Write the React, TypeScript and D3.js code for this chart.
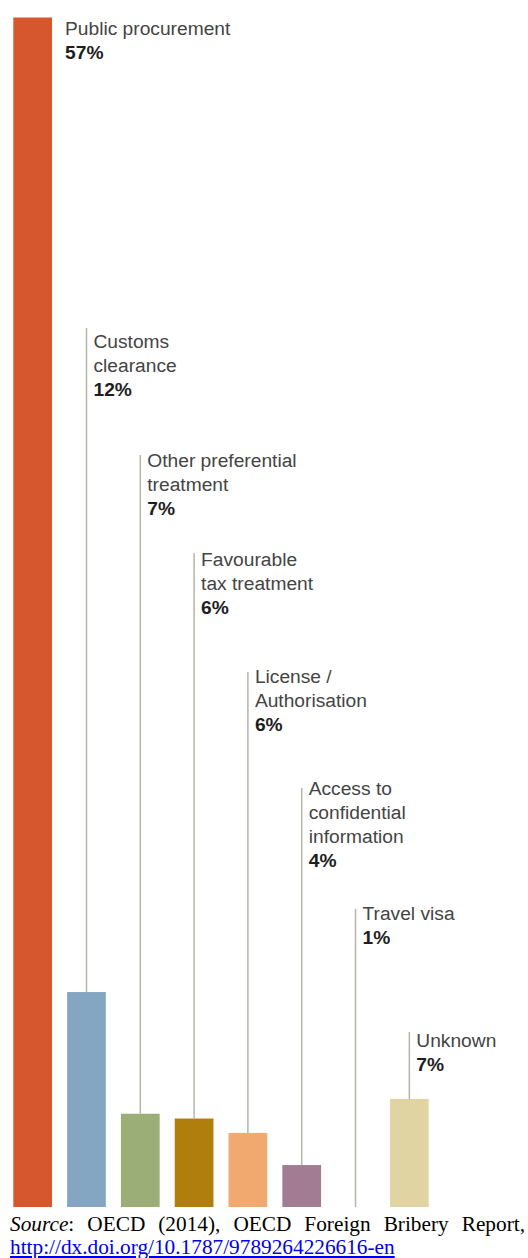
import React, { useEffect, useRef } from "react";
import * as d3 from "d3";

// ---- data ----
const categories = [
  "Public procurement",
  "Customs clearance",
  "Other preferential treatment",
  "Favourable tax treatment",
  "License / Authorisation",
  "Access to confidential information",
  "Travel visa",
  "Unknown",
];
// label lines as printed
const labelLines: string[][] = [
  ["Public procurement"],
  ["Customs", "clearance"],
  ["Other preferential", "treatment"],
  ["Favourable", "tax treatment"],
  ["License /", "Authorisation"],
  ["Access to", "confidential", "information"],
  ["Travel visa"],
  ["Unknown"],
];
// printed shares (%)
const shares = [57, 12, 7, 6, 6, 4, 1, 7];
// bar heights as drawn in the picture (same % units as the tallest bar)
const barValues = [57, 10.3, 4.47, 4.24, 3.55, 2.01, 0, 5.18];
const barColors = ["#d6572d", "#84a6c2", "#9bae77", "#b07e0c", "#f2a96f", "#a27c93", "none", "#e0d4a2"];

// ---- layout ----
const W = 528;
const H = 1258;
const BASE_Y = 1207;
const TOP_Y = 17.5;
const labelBaselines = [34.5, 348, 467, 566, 683, 795, 920, 1047];
const leaderTops = [NaN, 328, 455, 553, 672, 788, 909, 1032];
const LINE_H = 24;
const FONT = "'Liberation Sans', Arial, Helvetica, sans-serif";
const FS = 19.2;

const sourceWords = ["OECD", "(2014),", "OECD", "Foreign", "Bribery", "Report,"];
const sourceLink = "http://dx.doi.org/10.1787/9789264226616-en";

export default function App() {
  const x = d3
    .scaleBand<string>()
    .domain(categories)
    .range([13.3, 13.3 + 8 * 53.8 - 15])
    .paddingInner(0.28)
    .paddingOuter(0);
  const y = d3.scaleLinear().domain([0, 57]).range([BASE_Y, TOP_Y]);
  const srcRef = useRef<SVGGElement>(null);

  useEffect(() => {
    const g = d3.select(srcRef.current);
    g.selectAll("*").remove();
    const left = 10;
    const right = 525;
    const yLine = 1231;
    const serif = "'Liberation Serif', 'Times New Roman', serif";
    const t0 = g
      .append("text")
      .attr("x", left)
      .attr("y", yLine)
      .attr("font-family", serif)
      .attr("font-size", 21.3)
      .attr("fill", "#000");
    t0.append("tspan").attr("font-style", "italic").text("Source");
    t0.append("tspan").text(":");
    const words = sourceWords.map((w) =>
      g
        .append("text")
        .attr("y", yLine)
        .attr("font-family", serif)
        .attr("font-size", 21.3)
        .attr("fill", "#000")
        .text(w)
    );
    const w0 = (t0.node() as SVGTextElement).getComputedTextLength();
    const ws = words.map((t) => (t.node() as SVGTextElement).getComputedTextLength());
    const total = w0 + d3.sum(ws);
    const gap = (right - left - total) / words.length;
    let cx = left + w0 + gap;
    words.forEach((t, i) => {
      t.attr("x", cx);
      cx += ws[i] + gap;
    });
    g.append("text")
      .attr("x", left)
      .attr("y", 1254)
      .attr("font-family", serif)
      .attr("font-size", 21.3)
      .attr("fill", "#0000ee")
      .attr("text-decoration", "underline")
      .text(sourceLink);
  }, []);

  return (
    <div style={{ position: "absolute", left: 0, top: 0, width: W, height: H, background: "#fff" }}>
      <svg width={W} height={H} style={{ display: "block" }}>
        {categories.map((c, i) => {
          const bx = x(c)!;
          const bw = x.bandwidth();
          const cxm = bx + bw / 2;
          const top = y(barValues[i]);
          const tx = i === 0 ? bx + bw + 13 : cxm + 7;
          return (
            <g key={c}>
              {barValues[i] > 0 && barColors[i] !== "none" && (
                <rect x={bx} y={top} width={bw} height={BASE_Y - top} fill={barColors[i]} />
              )}
              {i > 0 && (
                <line
                  x1={cxm}
                  x2={cxm}
                  y1={leaderTops[i]}
                  y2={top}
                  stroke="#b9b2ab"
                  strokeWidth={1.5}
                />
              )}
              <text x={tx} y={labelBaselines[i]} fontFamily={FONT} fontSize={FS} fill="#444">
                {labelLines[i].map((l, j) => (
                  <tspan key={j} x={tx} y={labelBaselines[i] + j * LINE_H}>
                    {l}
                  </tspan>
                ))}
              </text>
              <text
                x={tx}
                y={labelBaselines[i] + labelLines[i].length * LINE_H}
                fontFamily={FONT}
                fontSize={FS}
                fontWeight="bold"
                fill="#1e1e1e"
              >
                {shares[i]}%
              </text>
            </g>
          );
        })}
        <g ref={srcRef} />
      </svg>
    </div>
  );
}
